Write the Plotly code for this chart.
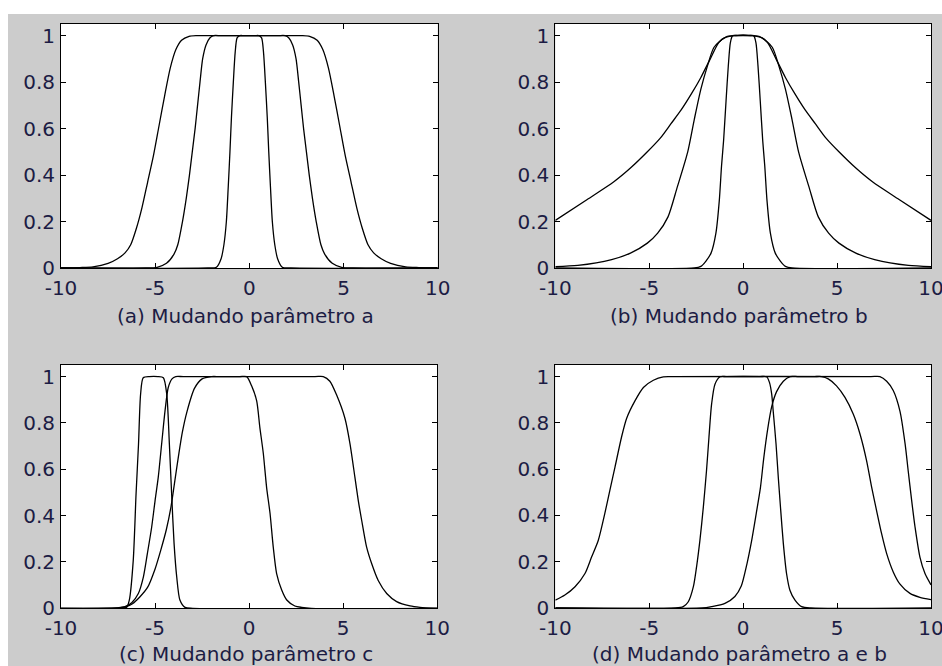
import plotly.graph_objects as go

# ---------------------------------------------------------------------------
# Membership curves, sampled as (x, y) pairs
# ---------------------------------------------------------------------------
# (a) changing parameter a
a_wide_x = [-10, -9.0, -8.3, -7.5, -7.0, -6.6, -6.3, -6.0, -5.7, -5.4, -5.1, -4.8, -4.5, -4.2, -3.9, -3.6, -3.2, -2.8,
            -2.4, 2.4, 2.8, 3.2, 3.6, 3.9, 4.2, 4.5, 4.8, 5.1, 5.4, 5.7, 6.0, 6.3, 6.6, 7.0, 7.5, 8.3, 9.0, 10]
a_wide_y = [0, 0.002, 0.005, 0.02, 0.04, 0.065, 0.10, 0.17, 0.26, 0.37, 0.48, 0.61, 0.74, 0.86, 0.94, 0.98, 0.997, 1.0,
            1.0, 1.0, 1.0, 0.997, 0.98, 0.94, 0.86, 0.74, 0.61, 0.48, 0.37, 0.26, 0.17, 0.10, 0.065, 0.04, 0.02, 0.005,
            0.002, 0]
a_mid_x = [-10, -5.5, -4.9, -4.4, -4.0, -3.8, -3.55, -3.35, -3.18, -3.03, -2.88, -2.75, -2.62, -2.48, -2.3, -2.1, -1.9,
           -1.5, 1.5, 1.9, 2.1, 2.3, 2.48, 2.62, 2.75, 2.88, 3.03, 3.18, 3.35, 3.55, 3.8, 4.0, 4.4, 4.9, 5.5, 10]
a_mid_y = [0, 0, 0.003, 0.02, 0.06, 0.10, 0.2, 0.3, 0.4, 0.5, 0.6, 0.7, 0.8, 0.9, 0.96, 0.99, 1.0,
           1.0, 1.0, 1.0, 0.99, 0.96, 0.9, 0.8, 0.7, 0.6, 0.5, 0.4, 0.3, 0.2, 0.10, 0.06, 0.02, 0.003, 0, 0]
a_narrow_x = [-10, -2.2, -1.75, -1.5, -1.35, -1.22, -1.12, -1.03, -0.95, -0.85, -0.75, -0.65, -0.5, -0.3,
              0.3, 0.5, 0.65, 0.75, 0.85, 0.95, 1.03, 1.12, 1.22, 1.35, 1.5, 1.75, 2.2, 10]
a_narrow_y = [0, 0, 0.003, 0.04, 0.1, 0.2, 0.35, 0.5, 0.65, 0.8, 0.93, 0.99, 1.0, 1.0,
              1.0, 1.0, 0.99, 0.93, 0.8, 0.65, 0.5, 0.35, 0.2, 0.1, 0.04, 0.003, 0, 0]

# (b) changing parameter b
b_wide_x = [-10, -8.3, -6.9, -6.0, -5.1, -4.4, -3.85, -3.3, -2.75, -2.25, -1.75, -1.3, -0.9, -0.5,
            0.5, 0.9, 1.3, 1.75, 2.25, 2.75, 3.3, 3.85, 4.4, 5.1, 6.0, 6.9, 8.3, 10]
b_wide_y = [0.205, 0.295, 0.37, 0.43, 0.50, 0.56, 0.62, 0.68, 0.75, 0.82, 0.90, 0.97, 0.995, 1.0,
            1.0, 0.995, 0.97, 0.90, 0.82, 0.75, 0.68, 0.62, 0.56, 0.50, 0.43, 0.37, 0.295, 0.205]
b_mid_x = [-10, -8.8, -7.0, -6.0, -5.1, -4.55, -4.0, -3.5, -2.95, -2.6, -2.25, -1.9, -1.55, -1.0, -0.5,
           0.5, 1.0, 1.55, 1.9, 2.25, 2.6, 2.95, 3.5, 4.0, 4.55, 5.1, 6.0, 7.0, 8.8, 10]
b_mid_y = [0.006, 0.011, 0.036, 0.064, 0.107, 0.15, 0.22, 0.35, 0.50, 0.64, 0.77, 0.87, 0.95, 0.99, 1.0,
           1.0, 0.99, 0.95, 0.87, 0.77, 0.64, 0.50, 0.35, 0.22, 0.15, 0.107, 0.064, 0.036, 0.011, 0.006]
b_narrow_x = [-10, -2.6, -2.25, -1.98, -1.71, -1.45, -1.27, -1.15, -1.04, -0.91, -0.79, -0.68, -0.56, -0.3,
              0.3, 0.56, 0.68, 0.79, 0.91, 1.04, 1.15, 1.27, 1.45, 1.71, 1.98, 2.25, 2.6, 10]
b_narrow_y = [0, 0, 0.007, 0.03, 0.064, 0.15, 0.29, 0.44, 0.55, 0.72, 0.87, 0.97, 1.0, 1.0,
              1.0, 1.0, 0.97, 0.87, 0.72, 0.55, 0.44, 0.29, 0.15, 0.064, 0.03, 0.007, 0, 0]

# (c) changing parameter c
c_left_x = [-10, -6.8, -6.51, -6.37, -6.16, -6.01, -5.88, -5.77, -5.63, -5.3, -4.85, -4.56, -4.38, -4.24, -4.12,
            -3.99, -3.85, -3.68, -3.41, -3.0, 10]
c_left_y = [0, 0, 0.004, 0.035, 0.207, 0.494, 0.709, 0.924, 0.995, 1.0, 1.0, 0.995, 0.924, 0.709, 0.494,
            0.279, 0.136, 0.036, 0.004, 0, 0]
c_wide_x = [-10, -7.0, -6.6, -6.24, -5.89, -5.62, -5.41, -5.18, -5.0, -4.83, -4.65, -4.47, -4.3, -4.1, -3.9,
            -3.5, 3.5, 3.94, 4.29, 4.65, 5.09, 5.36, 5.62, 5.8, 5.98, 6.24, 6.51, 6.86, 7.31, 7.84, 8.55, 9.08, 10]
c_wide_y = [0, 0.002, 0.007, 0.024, 0.064, 0.136, 0.236, 0.351, 0.465, 0.566, 0.71, 0.853, 0.953, 0.99, 1.0,
            1.0, 1.0, 1.0, 0.98, 0.92, 0.82, 0.71, 0.566, 0.465, 0.38, 0.265, 0.193, 0.12, 0.064, 0.029, 0.01,
            0.004, 0]
c_mid_x = [-10, -7.0, -6.6, -6.2, -5.8, -5.4, -5.0, -4.7, -4.4, -4.15, -3.95, -3.75, -3.55, -3.3, -2.9, -2.5, -2.0,
           -1.6, -0.5, -0.13, 0.13, 0.40, 0.57, 0.75, 0.93, 1.11, 1.28, 1.46, 1.73, 2.0, 2.43, 2.79, 3.3, 10]
c_mid_y = [0, 0.002, 0.005, 0.02, 0.05, 0.09, 0.17, 0.25, 0.34, 0.44, 0.55, 0.66, 0.76, 0.85, 0.95, 0.99, 1.0,
           1.0, 1.0, 1.0, 0.96, 0.895, 0.78, 0.67, 0.52, 0.41, 0.265, 0.15, 0.079, 0.036, 0.01, 0.004, 0, 0]

# (d) changing a and b
d_wide_x = [-10, -9.49, -8.95, -8.42, -8.07, -7.71, -7.36, -7.09, -6.82, -6.47, -6.2, -5.76, -5.31, -4.78, -4.25,
            -3.8, 6.8, 7.28, 7.64, 7.99, 8.35, 8.62, 8.79, 8.97, 9.15, 9.41, 9.68, 10]
d_wide_y = [0.034, 0.056, 0.092, 0.149, 0.22, 0.293, 0.41, 0.51, 0.61, 0.74, 0.82, 0.895, 0.953, 0.984, 0.999,
            1.0, 1.0, 1.0, 0.98, 0.94, 0.85, 0.71, 0.59, 0.465, 0.35, 0.22, 0.149, 0.10]
d_narrow_x = [-10, -3.6, -3.19, -2.92, -2.65, -2.48, -2.3, -2.12, -1.95, -1.82, -1.68, -1.5, -1.23, -0.9,
              0.9, 1.25, 1.4, 1.52, 1.6, 1.75, 1.87, 2.0, 2.14, 2.31, 2.49, 2.76, 3.11, 3.6, 10]
d_narrow_y = [0, 0, 0.006, 0.027, 0.092, 0.178, 0.293, 0.436, 0.594, 0.738, 0.881, 0.967, 0.999, 1.0,
              1.0, 0.999, 0.975, 0.924, 0.85, 0.71, 0.565, 0.422, 0.278, 0.149, 0.077, 0.034, 0.006, 0, 0]
d_right_x = [-10, -2.2, -1.68, -0.97, -0.44, -0.1, 0.2, 0.45, 0.7, 0.92, 1.1, 1.3, 1.52, 1.78, 2.14, 2.5,
             2.9, 3.8, 4.18, 4.53, 4.97, 5.42, 5.86, 6.22, 6.57, 6.84, 7.1, 7.37, 7.64, 7.99, 8.35, 8.88, 9.41, 10]
d_right_y = [0, 0, 0.006, 0.02, 0.05, 0.095, 0.19, 0.29, 0.41, 0.52, 0.65, 0.77, 0.87, 0.935, 0.98, 1.0,
             1.0, 1.0, 1.0, 0.99, 0.96, 0.91, 0.838, 0.752, 0.637, 0.522, 0.422, 0.321, 0.235, 0.156, 0.103, 0.063,
             0.046, 0.036]

captions = ["(a) Mudando parâmetro a", "(b) Mudando parâmetro b",
            "(c) Mudando parâmetro c", "(d) Mudando parâmetro a e b"]

x_ticks = [-10, -5, 0, 5, 10]
x_tick_text = ["-10", "-5", "0", "5", "10"]
y_ticks = [0, 0.2, 0.4, 0.6, 0.8, 1]
y_tick_text = ["0", "0.2", "0.4", "0.6", "0.8", "1"]

panel_curves = [
    [(a_wide_x, a_wide_y), (a_mid_x, a_mid_y), (a_narrow_x, a_narrow_y)],
    [(b_wide_x, b_wide_y), (b_mid_x, b_mid_y), (b_narrow_x, b_narrow_y)],
    [(c_left_x, c_left_y), (c_wide_x, c_wide_y), (c_mid_x, c_mid_y)],
    [(d_wide_x, d_wide_y), (d_narrow_x, d_narrow_y), (d_right_x, d_right_y)],
]

# ---------------------------------------------------------------------------
# Page geometry (pixels)
# ---------------------------------------------------------------------------
W, H = 942, 666
BG = "#cccccc"
TEXT = "#1c1c44"
FONT = "DejaVu Sans"

# left, right, top, bottom of each axes box
boxes = [
    (61, 437.7, 24, 268),
    (555.3, 931, 24, 268),
    (61, 437.3, 365, 608.3),
    (555.3, 931, 365, 608),
]
caption_pos = [(245.5, 316), (739.3, 316), (245.8, 654), (739.3, 654)]

fig = go.Figure()

for i, curves in enumerate(panel_curves):
    sfx = "" if i == 0 else str(i + 1)
    for xs, ys in curves:
        fig.add_trace(go.Scatter(
            x=xs, y=ys, mode="lines",
            line=dict(color="black", width=1.3, shape="spline", smoothing=0.7),
            xaxis="x" + sfx, yaxis="y" + sfx, showlegend=False, hoverinfo="skip",
        ))

    l, r, t, b = boxes[i]
    axis_common = dict(
        showline=True, linecolor="black", linewidth=1, mirror="ticks",
        ticks="inside", ticklen=5, tickwidth=1, tickcolor="black",
        showgrid=False, zeroline=False, automargin=False,
        ticklabeloverflow="allow",
        tickfont=dict(family=FONT, size=20, color=TEXT),
    )
    fig.layout["xaxis" + sfx] = dict(
        domain=[l / W, r / W], range=[-10, 10], anchor="y" + sfx,
        tickvals=x_ticks, ticktext=x_tick_text, ticklabelstandoff=2, **axis_common,
    )
    fig.layout["yaxis" + sfx] = dict(
        domain=[1 - b / H, 1 - t / H], range=[0, 1.05], anchor="x" + sfx,
        tickvals=y_ticks, ticktext=y_tick_text, ticklabelstandoff=1, **axis_common,
    )

    cx, cy = caption_pos[i]
    fig.add_annotation(
        x=cx / W, y=1 - cy / H, xref="paper", yref="paper",
        text=captions[i], showarrow=False, xanchor="center", yanchor="middle",
        font=dict(family=FONT, size=20, color=TEXT),
    )

# white border strips along the top and left edges of the page
fig.add_shape(type="rect", xref="paper", yref="paper", x0=0, x1=1, y0=1 - 14 / H, y1=1,
              fillcolor="white", line_width=0, layer="below")
fig.add_shape(type="rect", xref="paper", yref="paper", x0=0, x1=8 / W, y0=0, y1=1,
              fillcolor="white", line_width=0, layer="below")

fig.update_layout(
    width=W, height=H,
    margin=dict(l=0, r=0, t=0, b=0, autoexpand=False),
    paper_bgcolor=BG, plot_bgcolor="white",
    showlegend=False,
)

fig.write_html("out.html", config={"displayModeBar": False})
